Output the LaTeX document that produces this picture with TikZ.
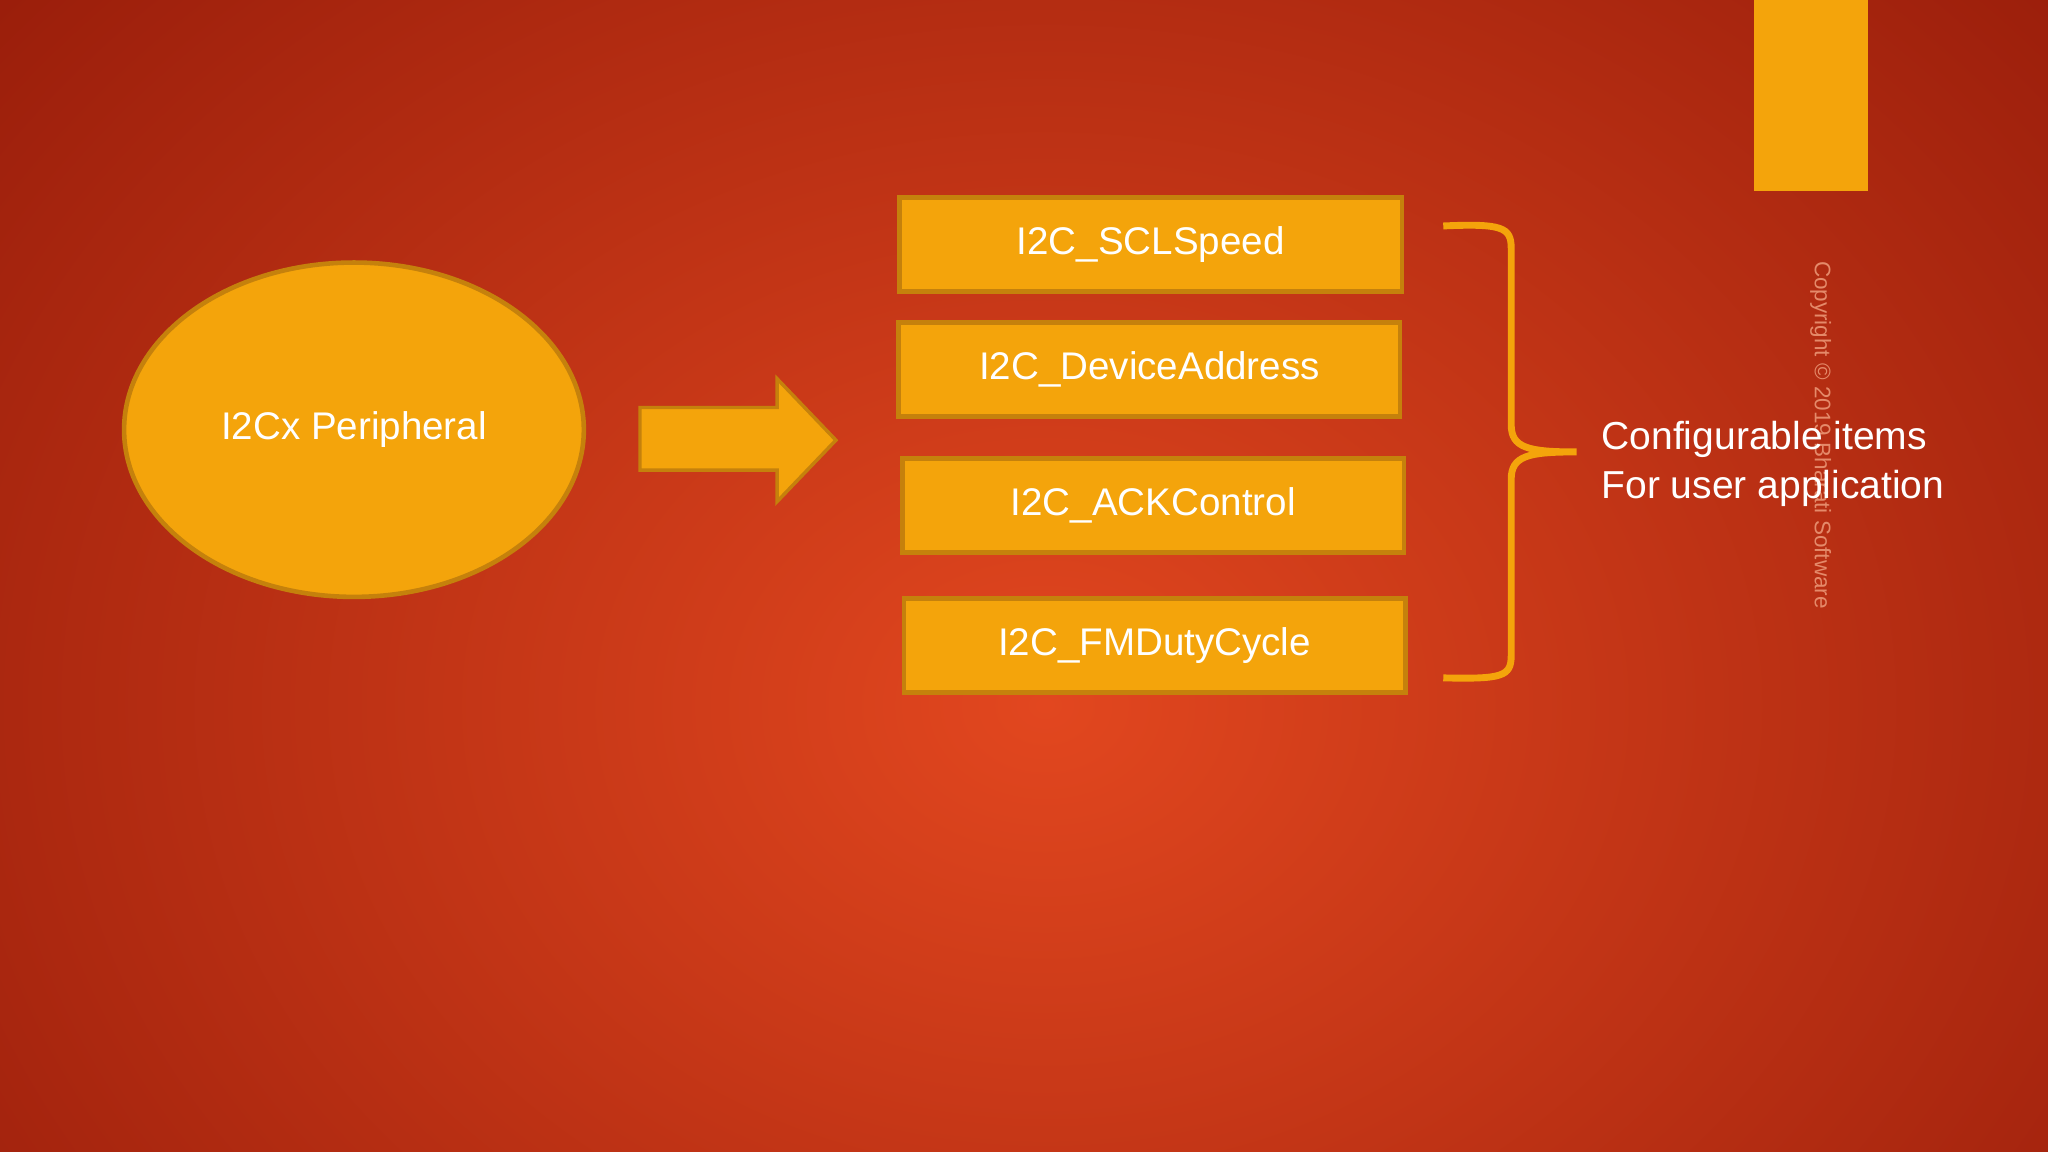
\documentclass[tikz,border=0pt]{standalone}
\usepackage{fontspec}
\setmainfont{Liberation Sans}
\usetikzlibrary{shapes.geometric}
\definecolor{bgc}{HTML}{E2471F}
\definecolor{bge}{HTML}{901808}
\definecolor{org}{HTML}{F4A40B}
\definecolor{orgd}{HTML}{C5810C}
\definecolor{cpy}{HTML}{E58A6A}
\tikzset{itembox/.style={draw=orgd,fill=org,line width=2pt,text=white,font=\fontsize{16.8}{19}\selectfont}}
\begin{document}
\begin{tikzpicture}[x=0.02cm,y=-0.02cm]
\useasboundingbox (0,0) rectangle (1568,882);
\clip (0,0) rectangle (1568,882);
\shade[inner color=bgc,outer color=bge] (-400,-420) rectangle (2000,1500);
\fill[org] (1343,0) rectangle (1430,146);
\node[rotate=-90,text=cpy,font=\fontsize{9.8}{11}\selectfont] (copy) at (1394,333) {Copyright © 2019 Bharati Software};
\node[draw=orgd,fill=org,line width=2pt,ellipse,minimum width=352*0.02cm,minimum height=256*0.02cm,inner sep=0pt,text=white,font=\fontsize{16.8}{19}\selectfont] (per) at (271,329) {I2Cx Peripheral};
\draw[draw=orgd,fill=org,line width=1.5pt] (490,312) -- (595,312) -- (595,290) -- (640,337) -- (595,384) -- (595,360) -- (490,360) -- cycle;
\node[itembox,minimum width=385*0.02cm,minimum height=72*0.02cm] (b1) at (881,187) {I2C\_SCLSpeed};
\node[itembox,minimum width=384*0.02cm,minimum height=72*0.02cm] (b2) at (880,283) {I2C\_DeviceAddress};
\node[itembox,minimum width=384*0.02cm,minimum height=72*0.02cm] (b3) at (883,387) {I2C\_ACKControl};
\node[itembox,minimum width=384*0.02cm,minimum height=72*0.02cm] (b4) at (884,494) {I2C\_FMDutyCycle};
\coordinate (bt) at (1105,173);
\coordinate (bb) at (1105,519);
\draw[org,line width=3pt] (bt) .. controls (1150,171) and (1157,174) .. (1157,190) -- (1157,325) .. controls (1157,343) and (1170,346) .. (1207,346) .. controls (1170,346) and (1157,349) .. (1157,367) -- (1157,502) .. controls (1157,518) and (1150,520) .. (bb);
\node[anchor=west,align=left,text=white,font=\fontsize{17}{21.5}\selectfont] (cfg) at (1220,355) {Configurable items\\For user application};
\end{tikzpicture}
\end{document}
